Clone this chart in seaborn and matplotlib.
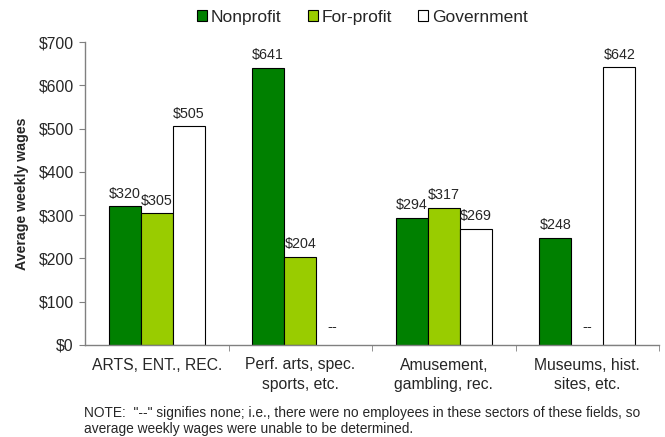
import matplotlib
matplotlib.use("Agg")
import matplotlib.pyplot as plt
import seaborn as sns
import numpy as np
import pandas as pd

categories = ["ARTS, ENT., REC.", "Perf. arts, spec.\nsports, etc.",
              "Amusement,\ngambling, rec.", "Museums, hist.\nsites, etc."]
series = ["Nonprofit", "For-profit", "Government"]
nonprofit = [320, 641, 294, 248]
forprofit = [305, 204, 317, np.nan]
government = [505, np.nan, 269, 642]
yticks = [0, 100, 200, 300, 400, 500, 600, 700]
colors = ["#008000", "#99CC00", "#FFFFFF"]

sns.set_style("white")
plt.rcParams['font.family'] = ['Liberation Sans', 'DejaVu Sans']

rows = []
for s, vals in zip(series, [nonprofit, forprofit, government]):
    for c, v in zip(categories, vals):
        rows.append({"cat": c, "sector": s, "val": v})
df = pd.DataFrame(rows)

BW = 0.67
fig = plt.figure(figsize=(6.65, 4.37), dpi=100)
ax = fig.add_axes([85 / 665, 1 - 345 / 437, 574 / 665, 303 / 437])
sns.barplot(data=df, x="cat", y="val", hue="sector", order=categories,
            hue_order=series, palette=colors, width=BW,
            edgecolor="black", linewidth=0.8, saturation=1, ax=ax, legend=True)

ax.set_ylim(0, 700)
ax.set_xlim(-0.5, 3.5)
ax.set_yticks(yticks)
ax.set_yticklabels([f"${v}" for v in yticks], fontsize=11.3)
ax.set_xticklabels(categories, fontsize=11.3, linespacing=1.4)
ax.set_xlabel("")
ax.set_ylabel("Average weekly wages", fontsize=10.2, fontweight="bold", labelpad=7)
ax.tick_params(axis="x", length=0, pad=9)
ax.tick_params(axis="y", length=4, direction="out", color="#808080", left=True, pad=4)
ax.set_xticks([0.5, 1.5, 2.5, 3.5], minor=True)
ax.tick_params(axis="x", which="minor", length=4, color="#808080", bottom=True)
for sp in ["top", "right"]:
    ax.spines[sp].set_visible(False)
for sp in ["left", "bottom"]:
    ax.spines[sp].set_color("#808080")
    ax.spines[sp].set_linewidth(1)

all_vals = [nonprofit, forprofit, government]
n = len(series)
for i, vals in enumerate(all_vals):
    offset = (i - (n - 1) / 2) * BW / n
    for j, v in enumerate(vals):
        x = j + offset
        if np.isnan(v):
            ax.annotate("--", (x, 0), xytext=(0, 10), textcoords="offset points",
                        ha="center", va="baseline", fontsize=10.5)
        else:
            ax.annotate(f"${int(v)}", (x, v), xytext=(0, 6), textcoords="offset points",
                        ha="center", va="baseline", fontsize=10.3)

leg = ax.legend(loc="center", bbox_to_anchor=(0.483, 1 + (345 - 17) / 303 - 1), ncol=3,
                frameon=False, fontsize=12.5, handlelength=0.6, handleheight=0.6,
                handletextpad=0.2, columnspacing=1.5, borderaxespad=0, borderpad=0)

fig.text(84 / 665, 1 - 413 / 437, 'NOTE:  "--" signifies none; i.e., there were no employees in these sectors of these fields, so',
         fontsize=9.9, ha="left", va="center")
fig.text(84 / 665, 1 - 429 / 437, 'average weekly wages were unable to be determined.',
         fontsize=9.9, ha="left", va="center")

fig.savefig("out.png", dpi=100)
